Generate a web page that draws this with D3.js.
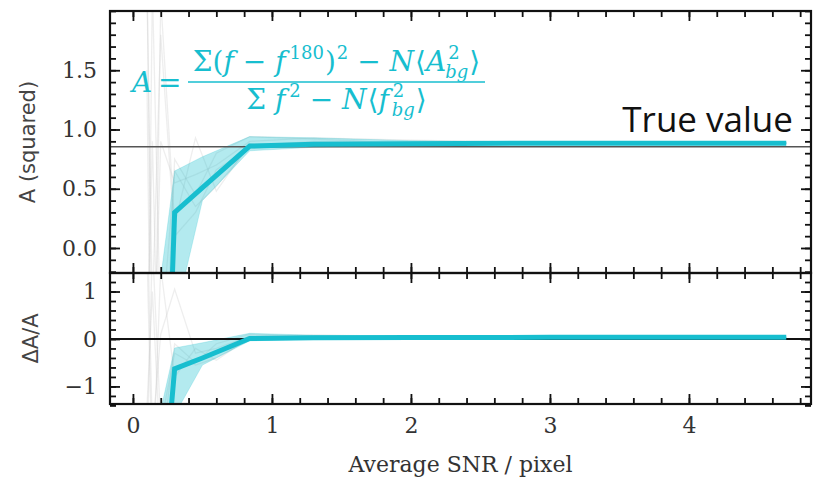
<!DOCTYPE html>
<html>
<head>
<meta charset="utf-8">
<script src="https://cdnjs.cloudflare.com/ajax/libs/d3/7.8.5/d3.min.js"></script>
<style>
  body { margin: 0; background: white; }
</style>
</head>
<body>
<script>
// median + band (top panel: A, bottom panel: relative error)
var snr = [0.2, 0.3, 0.5, 0.84, 1.3, 2.0, 3.0, 4.0, 4.7];
var medA = [-3.0, 0.30, 0.51, 0.86, 0.875, 0.88, 0.885, 0.885, 0.885];
var loA  = [-4.5, -0.6, 0.40, 0.82, 0.85, 0.865, 0.875, 0.878, 0.88];
var hiA  = [-0.25, 0.65, 0.77, 0.94, 0.93, 0.905, 0.895, 0.89, 0.89];
var medD = [-4.0, -0.63, -0.40, 0.01, 0.025, 0.03, 0.035, 0.035, 0.035];
var loD  = [-6.0, -1.6, -0.55, -0.04, 0.0, 0.015, 0.025, 0.03, 0.03];
var hiD  = [-1.5, -0.19, -0.08, 0.12, 0.08, 0.06, 0.045, 0.04, 0.04];

// individual realisations (faint grey)
var snrFine = [0.1, 0.14, 0.2, 0.3, 0.45, 0.6, 0.84, 1.3, 2.0, 3.0, 4.7];
var realA = [
  [2.5, -1.5, 0.9, 0.55, 0.62, 0.70, 0.90, 0.93, 0.91, 0.89, 0.885],
  [-2.0, 2.2, -0.8, 0.65, 0.35, 0.52, 0.86, 0.90, 0.89, 0.885, 0.885],
  [1.5, -2.5, 2.1, 0.20, 0.93, 0.48, 0.88, 0.87, 0.90, 0.885, 0.885],
  [-1.0, 0.9, -2.0, 0.75, 0.45, 0.80, 0.94, 0.92, 0.88, 0.885, 0.885],
  [2.2, -0.5, 1.8, 0.10, 0.30, 0.66, 0.84, 0.88, 0.89, 0.885, 0.885]
];
var realD = [
  [3.0, -2.0, 0.1, 1.05, -0.3, -0.2, 0.06, 0.08, 0.06, 0.04, 0.035],
  [-2.5, 2.0, -1.8, -0.3, -0.55, -0.4, 0.0, 0.05, 0.04, 0.035, 0.035],
  [2.0, -3.0, 1.5, -0.8, -0.2, -0.45, 0.03, 0.02, 0.05, 0.035, 0.035],
  [-1.5, 1.0, -2.5, -0.1, -0.5, -0.1, 0.1, 0.07, 0.03, 0.035, 0.035]
];
var trueValue = 0.855;

var xTicks = [0, 1, 2, 3, 4];
var yTicksA = [0.0, 0.5, 1.0, 1.5];
var yTicksD = [-1, 0, 1];

var width = 813, height = 480;
var L = 110, R = 811, T1 = 11, B1 = 273, T2 = 273, B2 = 404;
var cyan = "#17becf";
var serif = "DejaVu Serif";

var svg = d3.select("body").append("svg")
  .attr("width", width).attr("height", height)
  .style("background-color", "white");

var x = d3.scaleLinear().domain([-0.165, 4.878]).range([L, R]);
var yA = d3.scaleLinear().domain([-0.211, 2.0]).range([B1, T1]);
var yD = d3.scaleLinear().domain([-1.37, 1.39]).range([B2, T2]);

function range(a, b, s) {
  var out = [];
  for (var v = a; v <= b + 1e-9; v += s) out.push(+v.toFixed(4));
  return out;
}

function ticks(axis, pos, vals, size, fmt) {
  var a = svg.append("g").attr("transform", pos)
    .call(axis.tickValues(vals).tickSize(-size).tickPadding(13)
      .tickFormat(fmt || ""));
  a.select(".domain").remove();
  a.selectAll("line").attr("stroke", "#111").attr("stroke-width", 1.8);
  a.selectAll("text").attr("font-family", serif).attr("font-size", 22).attr("fill", "#333");
  return a;
}

function panel(id, y, top, bot, minorY, majorY, fmt) {
  svg.append("clipPath").attr("id", id)
    .append("rect").attr("x", L).attr("y", top).attr("width", R - L).attr("height", bot - top);
  var plot = svg.append("g").attr("clip-path", "url(#" + id + ")");
  var xMinor = range(0, 4.8, 0.2);
  ticks(d3.axisBottom(x), "translate(0," + bot + ")", xMinor, 6);
  ticks(d3.axisTop(x), "translate(0," + top + ")", xMinor, 6);
  ticks(d3.axisTop(x), "translate(0," + top + ")", xTicks, 10);
  ticks(d3.axisLeft(y), "translate(" + L + ",0)", minorY, 6);
  ticks(d3.axisRight(y), "translate(" + R + ",0)", minorY, 6);
  ticks(d3.axisRight(y), "translate(" + R + ",0)", majorY, 10);
  ticks(d3.axisLeft(y), "translate(" + L + ",0)", majorY, 10, fmt);
  return {plot: plot};
}

var fmtA = d3.format(".1f");
var fmtD = function(d) { return d3.format("d")(d).replace("-", "\u2212"); };

var pA = panel("clipA", yA, T1, B1, range(-0.2, 2.0, 0.1), yTicksA, fmtA);
var pD = panel("clipD", yD, T2, B2, range(-1.4, 1.4, 0.2), yTicksD, fmtD);

// x ticks with labels below the lower panel, major bottom ticks of the upper panel
ticks(d3.axisBottom(x), "translate(0," + B2 + ")", xTicks, 10, d3.format("d"));
ticks(d3.axisBottom(x), "translate(0," + B1 + ")", xTicks, 10);

function drawData(p, y, real, lo, hi, med, ref, refColor, refWidth) {
  var line = d3.line().x(function(d) { return x(d[0]); }).y(function(d) { return y(d[1]); });
  real.forEach(function(r) {
    p.plot.append("path")
      .attr("d", line(snrFine.map(function(v, i) { return [v, r[i]]; })))
      .attr("fill", "none").attr("stroke", "#c8c8c8").attr("stroke-opacity", 0.3).attr("stroke-width", 1.3);
  });
  var area = d3.area()
    .x(function(d, i) { return x(snr[i]); })
    .y0(function(d, i) { return y(lo[i]); })
    .y1(function(d, i) { return y(hi[i]); });
  p.plot.append("path").attr("d", area(snr))
    .attr("fill", cyan).attr("fill-opacity", 0.33).attr("stroke", cyan).attr("stroke-opacity", 0.2);
  p.plot.append("line")
    .attr("x1", L).attr("x2", R).attr("y1", y(ref)).attr("y2", y(ref))
    .attr("stroke", refColor).attr("stroke-width", refWidth);
  p.plot.append("path")
    .attr("d", line(snr.map(function(v, i) { return [v, med[i]]; })))
    .attr("fill", "none").attr("stroke", cyan).attr("stroke-width", 5)
    .attr("stroke-linejoin", "miter");
}

drawData(pA, yA, realA, loA, hiA, medA, trueValue, "#555", 1.6);
drawData(pD, yD, realD, loD, hiD, medD, 0, "#111", 2);

// frames
[[T1, B1], [T2, B2]].forEach(function(b) {
  svg.append("rect").attr("x", L).attr("y", b[0]).attr("width", R - L).attr("height", b[1] - b[0])
    .attr("fill", "none").attr("stroke", "#111").attr("stroke-width", 2.2);
});

// axis labels
svg.append("text")
  .attr("transform", "translate(35," + ((T1 + B1) / 2) + ") rotate(-90)")
  .attr("text-anchor", "middle")
  .attr("font-family", "DejaVu Sans").attr("font-size", 21).attr("fill", "#444")
  .text("A (squared)");
svg.append("text")
  .attr("transform", "translate(38," + ((T2 + B2) / 2) + ") rotate(-90)")
  .attr("text-anchor", "middle")
  .attr("font-family", "DejaVu Sans").attr("font-size", 21).attr("fill", "#444")
  .text("\u0394A/A");
svg.append("text")
  .attr("x", (L + R) / 2).attr("y", 472)
  .attr("text-anchor", "middle")
  .attr("font-family", serif).attr("font-size", 22).attr("fill", "#333")
  .text("Average SNR / pixel");

svg.append("text")
  .attr("x", 793).attr("y", 132)
  .attr("text-anchor", "end")
  .attr("font-family", "Open Sans").attr("font-size", 35).attr("fill", "#111")
  .text("True value");

// formula
var fs = 28, ss = 18;
var numer = [
  {t: "\u03A3(", s: fs}, {t: "f", s: fs, i: 1}, {t: " \u2212 ", s: fs}, {t: "f", s: fs, i: 1},
  {t: "180", s: ss, dy: -12, dx: 4}, {t: ")", s: fs, dx: 1}, {t: "2", s: ss, dy: -12, dx: 1},
  {t: " \u2212 ", s: fs}, {t: "N", s: fs, i: 1}, {t: "\u27E8", s: fs, dx: 1}, {t: "A", s: fs, i: 1},
  {t: "2", s: ss, dy: -12, dx: 2}, {t: "bg", s: ss, dy: 7, i: 1, stack: 1, dx: -3}, {t: "\u27E9", s: fs, dx: 1}
];
var denom = [
  {t: "\u03A3 ", s: fs}, {t: "f", s: fs, i: 1}, {t: "2", s: ss, dy: -12, dx: 4},
  {t: " \u2212 ", s: fs}, {t: "N", s: fs, i: 1}, {t: "\u27E8", s: fs, dx: 1}, {t: "f", s: fs, i: 1},
  {t: "2", s: ss, dy: -12, dx: 4}, {t: "bg", s: ss, dy: 7, i: 1, stack: 1, dx: -1}, {t: "\u27E9", s: fs, dx: 1}
];
function mathRow(parent, pieces) {
  var g = parent.append("g");
  var cx = 0, lastStart = 0, lastW = 0;
  pieces.forEach(function(p) {
    var px = p.stack ? lastStart + (p.dx || 0) : cx + (p.dx || 0);
    var t = g.append("text").attr("x", px).attr("y", p.dy || 0)
      .attr("font-family", serif).attr("font-size", p.s)
      .attr("font-style", p.i ? "italic" : "normal")
      .attr("fill", cyan).style("white-space", "pre").text(p.t);
    var w = t.node().getComputedTextLength();
    if (p.stack) { cx = Math.max(lastStart + lastW, px + w); }
    else { lastStart = px; lastW = w; cx = px + w; }
  });
  return {g: g, w: cx};
}
var fg = svg.append("g");
fg.append("text").attr("x", 132).attr("y", 92)
  .attr("font-family", serif).attr("font-size", fs).attr("fill", cyan)
  .attr("font-style", "italic").text("A");
fg.append("text").attr("x", 158).attr("y", 92)
  .attr("font-family", serif).attr("font-size", fs).attr("fill", cyan)
  .text("=");
var barL = 188, barR = 485, barY = 82;
fg.append("line").attr("x1", barL).attr("x2", barR).attr("y1", barY).attr("y2", barY)
  .attr("stroke", cyan).attr("stroke-width", 1.6);
var nr = mathRow(fg, numer);
nr.g.attr("transform", "translate(" + ((barL + barR - nr.w) / 2) + ",71)");
var dr = mathRow(fg, denom);
dr.g.attr("transform", "translate(" + ((barL + barR - dr.w) / 2) + ",109)");
</script>
</body>
</html>
